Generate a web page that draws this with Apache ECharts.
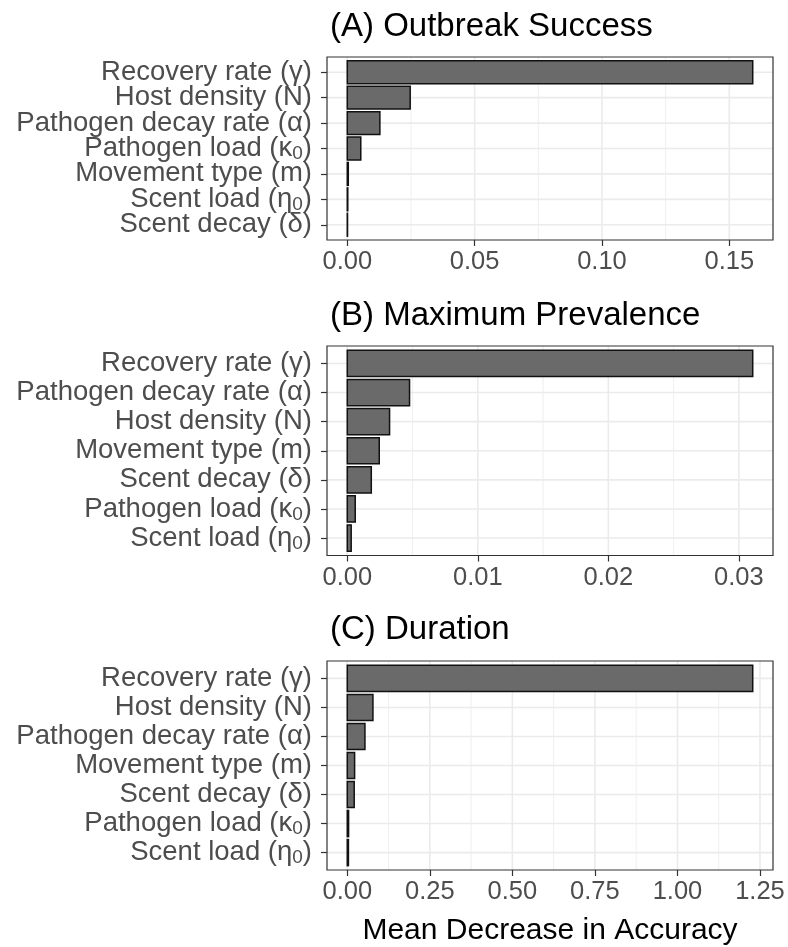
<!DOCTYPE html>
<html>
<head>
<meta charset="utf-8">
<script src="https://cdn.jsdelivr.net/npm/echarts@6/dist/echarts.min.js"></script>
<style>
  html, body { margin: 0; padding: 0; background: #ffffff; }
  #chart { width: 788px; height: 947px; }
</style>
</head>
<body>
<div id="chart"></div>
<script>
// Random-forest variable importance (mean decrease in accuracy), three outcomes.

const panelTitles = ['(A) Outbreak Success', '(B) Maximum Prevalence', '(C) Duration'];
const axisTitle = 'Mean Decrease in Accuracy';

// (A) Outbreak success
const categoriesA = ['Recovery rate (γ)', 'Host density (N)', 'Pathogen decay rate (α)', 'Pathogen load (κ₀)',
                     'Movement type (m)', 'Scent load (η₀)', 'Scent decay (δ)'];
const valuesA = [0.1592, 0.0247, 0.0128, 0.0053, 0.0004, 0.0002, 0.0001];
const ticksA = [0, 0.05, 0.10, 0.15];

// (B) Maximum prevalence
const categoriesB = ['Recovery rate (γ)', 'Pathogen decay rate (α)', 'Host density (N)', 'Movement type (m)',
                     'Scent decay (δ)', 'Pathogen load (κ₀)', 'Scent load (η₀)'];
const valuesB = [0.03106, 0.00477, 0.00324, 0.00245, 0.00184, 0.00061, 0.00030];
const ticksB = [0, 0.01, 0.02, 0.03];

// (C) Duration
const categoriesC = ['Recovery rate (γ)', 'Host density (N)', 'Pathogen decay rate (α)', 'Movement type (m)',
                     'Scent decay (δ)', 'Pathogen load (κ₀)', 'Scent load (η₀)'];
const valuesC = [1.228, 0.0777, 0.0535, 0.0222, 0.0210, 0.0040, 0.0035];
const ticksC = [0, 0.25, 0.50, 0.75, 1.00, 1.25];

const FONT = '"Liberation Sans", Arial, Helvetica, sans-serif';
const TEXT_GREY = '#4d4d4d';
const INK = '#333333';
const GRID_GREY = '#ebebeb';

// panel layout (pixels)
const layout = [
  { top: 57,  bottom: 707,   titleTop: 3 },
  { top: 346, bottom: 391.5, titleTop: 292 },
  { top: 661, bottom: 76.3,  titleTop: 606 }
];

const panels = [
  { title: panelTitles[0], cats: categoriesA, vals: valuesA, ticks: ticksA },
  { title: panelTitles[1], cats: categoriesB, vals: valuesB, ticks: ticksB },
  { title: panelTitles[2], cats: categoriesC, vals: valuesC, ticks: ticksC }
];

// turn "κ₀" into rich text with a lowered, smaller 0
function richLabel(name) {
  return '{lab|' + name.replace('₀', '}{sub|0}{lab|') + '}';
}

// Category positions listed so that neighbouring rows are never adjacent in
// the list: the axis only compares the first two and last two labels when it
// decides whether to drop an end label, and tightly packed rows would trip it.
function interleave(idx) {
  const out = [];
  const step = 3;
  for (let s = 0; s < step; s++) for (let k = s; k < idx.length; k += step) out.push(idx[k]);
  return out;
}

const grids = [], xAxes = [], yAxes = [], series = [], titles = [];

panels.forEach((p, i) => {
  const L = layout[i];
  const vmax = Math.max(...p.vals);
  const n = p.cats.length;
  const catIdx = p.cats.map((_, k) => k);
  const labelOrder = interleave(catIdx);

  grids.push({ left: 327, right: 15, top: L.top, bottom: L.bottom, show: true,
               backgroundColor: '#ffffff', borderWidth: 0, containLabel: false });

  titles.push({ text: p.title, left: 325, top: L.titleTop,
                textStyle: { fontFamily: FONT, fontSize: 33, fontWeight: 'normal', color: '#000000', lineHeight: 38 } });

  xAxes.push({
    type: 'value', gridIndex: i,
    min: -0.05 * vmax, max: 1.05 * vmax,
    axisLine: { show: false, onZero: false },
    axisTick: { show: true, length: 6, customValues: p.ticks, lineStyle: { color: INK, width: 1.2 } },
    axisLabel: { customValues: p.ticks, formatter: v => v.toFixed(2), margin: 9,
                 showMinLabel: true, showMaxLabel: true,
                 fontFamily: FONT, fontSize: 25.5, color: TEXT_GREY },
    splitLine: { show: false },
    name: i === 2 ? axisTitle : '',
    nameLocation: 'middle', nameGap: 46,
    nameTextStyle: { fontFamily: FONT, fontSize: 30, color: '#000000' }
  });

  yAxes.push({
    type: 'value', gridIndex: i, inverse: true,
    min: -0.6, max: n - 1 + 0.6,
    axisLine: { show: false, onZero: false },
    axisTick: { show: true, length: 6, customValues: labelOrder, lineStyle: { color: INK, width: 1.2 } },
    axisLabel: {
      customValues: labelOrder, margin: 15,
      showMinLabel: true, showMaxLabel: true, hideOverlap: false,
      formatter: v => richLabel(p.cats[Math.round(v)]),
      rich: {
        lab: { fontFamily: FONT, fontSize: 27.5, color: TEXT_GREY, lineHeight: 30 },
        sub: { fontFamily: FONT, fontSize: 19, color: TEXT_GREY, lineHeight: 19, verticalAlign: 'bottom' }
      }
    },
    splitLine: { show: false }
  });

  // background grid: major/minor verticals at tick values, one horizontal per category
  const lineData = [];
  p.ticks.forEach(t => lineData.push([t, 0]));
  for (let k = 0; k < p.ticks.length - 1; k++) lineData.push([(p.ticks[k] + p.ticks[k + 1]) / 2, 1]);
  catIdx.forEach(k => lineData.push([k, 2]));

  series.push({
    type: 'custom', xAxisIndex: i, yAxisIndex: i, z: 1, silent: true,
    data: lineData,
    renderItem: (params, api) => {
      const cs = params.coordSys;
      const v = api.value(0), kind = api.value(1);
      if (kind === 2) {
        const y = api.coord([0, v])[1];
        return { type: 'line', shape: { x1: cs.x, y1: y, x2: cs.x + cs.width, y2: y },
                 style: { stroke: GRID_GREY, lineWidth: 1.6 } };
      }
      const x = api.coord([v, 0])[0];
      return { type: 'line', shape: { x1: x, y1: cs.y, x2: x, y2: cs.y + cs.height },
               style: { stroke: GRID_GREY, lineWidth: kind === 0 ? 1.6 : 0.8 } };
    }
  });

  // bars
  series.push({
    type: 'custom', xAxisIndex: i, yAxisIndex: i, z: 3, silent: true,
    data: p.vals.map((v, k) => [v, k]),
    renderItem: (params, api) => {
      const v = api.value(0), k = api.value(1);
      const a = api.coord([0, k]), b = api.coord([v, k]);
      const h = api.size([0, 0.9])[1];
      return { type: 'rect', shape: { x: a[0], y: a[1] - h / 2, width: b[0] - a[0], height: h },
               style: { fill: '#6a6a6a', stroke: '#111111', lineWidth: 1.5 } };
    }
  });

  // panel border
  series.push({
    type: 'custom', xAxisIndex: i, yAxisIndex: i, z: 5, silent: true,
    data: [[0, 0]],
    renderItem: (params) => {
      const cs = params.coordSys;
      return { type: 'rect', shape: { x: cs.x, y: cs.y, width: cs.width, height: cs.height },
               style: { fill: 'none', stroke: INK, lineWidth: 1.2 } };
    }
  });
});

const chart = echarts.init(document.getElementById('chart'), null, { renderer: 'canvas' });
chart.setOption({
  animation: false,
  backgroundColor: '#ffffff',
  title: titles,
  grid: grids,
  xAxis: xAxes,
  yAxis: yAxes,
  series: series
});
</script>
</body>
</html>
